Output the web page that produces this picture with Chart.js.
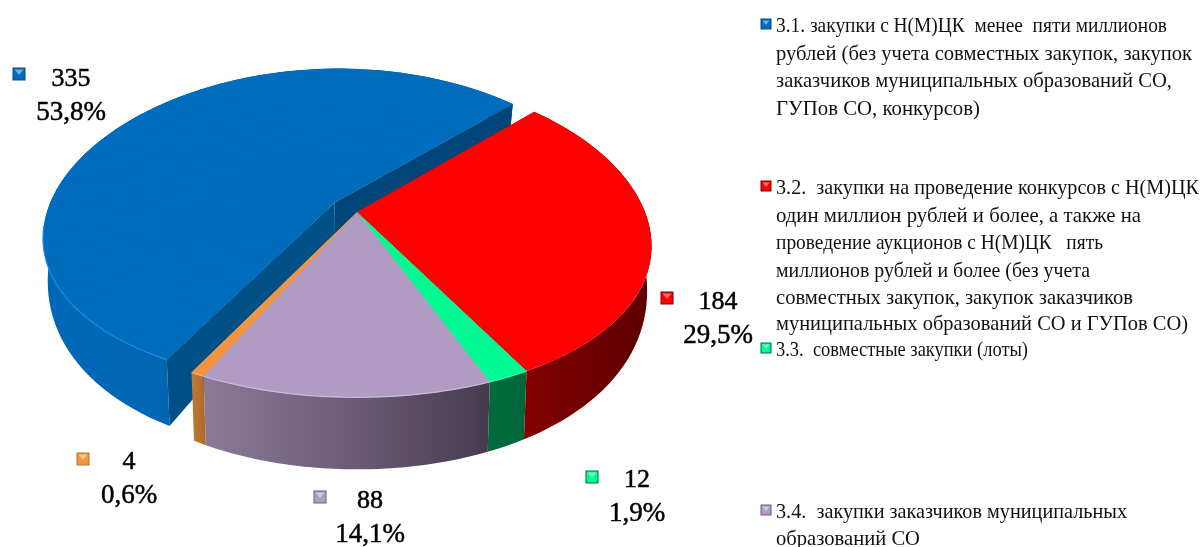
<!DOCTYPE html>
<html><head><meta charset="utf-8">
<style>html,body{margin:0;padding:0;background:#fff}#w{width:1202px;height:547px}</style>
<script src="https://cdn.jsdelivr.net/npm/chart.js@4"></script></head>
<body><div id="w"><canvas id="c" width="1202" height="547"></canvas></div>
<script>
// ---- data ----
const categories = ["3.1","3.2","3.3","3.4","3.5"];
const values = [335,184,12,88,4];
const percentLabels = ["53,8%","29,5%","1,9%","14,1%","0,6%"];
const explode = [0.1,0,0,0,0];
// ---- style ----
const topColors = ["#006cbd","#fe0000","#00fa92","#b09cc2","#f29543"];
const rimColors = ["#1a8be0","#ff3030","#30ffb0","#cbb9db","#f7b070"];
const keyDark = ["#004b84","#7a0000","#006a3c","#6a5d78","#b8722f"];
const blueFaces = ["#005088","#00457a"];
const wallStops = [
  ["#0068b8","#0062ad","#00548f"],
  ["#850000","#6e0000","#5e0000"],
  ["#006a3c","#006a3c","#00643a"],
  ["#8a7b99","#6b5d78","#463b4e"],
  ["#bd7a38","#b8732f","#b06c2b"]];
const labelPos = [[71,77,19,74],[718,300,667,298],[637,478,592,477],[370,499,320,497],[129,460,83,459]];
const legendLines = [
 ["3.1. закупки с Н(М)ЦК  менее  пяти миллионов",32,391,true,0],
 ["рублей (без учета совместных закупок, закупок",60,416],
 ["заказчиков муниципальных образований СО,",87,396],
 ["ГУПов СО, конкурсов)",115,204],
 ["3.2.  закупки на проведение конкурсов с Н(М)ЦК",194,423,true,1],
 ["один миллион рублей и более, а также на",222,365],
 ["проведение аукционов с Н(М)ЦК   пять",249,327],
 ["миллионов рублей и более (без учета",277,314],
 ["совместных закупок, закупок заказчиков",304,357],
 ["муниципальных образований СО и ГУПов СО)",330,412],
 ["3.3.  совместные закупки (лоты)",356,252,true,2],
 ["3.4.  закупки заказчиков муниципальных",518,351,true,3],
 ["образований СО",545,144]];
const P={cx:357,cy:212,a:288,qx:0.21,b:157,qy:0.153,h0:34,hFront:72,q2:0.525,shrink:0.985};
function wallHeight(t){
  return t>=0 ? P.h0/(1+P.q2*t) : P.h0+(P.hFront-P.h0)*Math.pow(Math.min(-t,1),0.8);
}
function proj(s,t,bottom){
  let x=P.a*s/(1+P.qx*t), y=P.cy-P.b*t/(1+P.qy*t);
  if(bottom){x*=P.shrink;y+=wallHeight(t);}
  return [P.cx+x,y];
}
const DEG=Math.PI/180;
function warp(th){ // the original's perspective pulls the front-left rim inward
  let d=((th/DEG)%360+360)%360, w=0;
  if(d>158&&d<=209)w=3.5*(d-158)/51;
  else if(d>209&&d<=230)w=3.5;
  else if(d>230&&d<300)w=3.5*(300-d)/70;
  return w*DEG;
}
function planeFn(i,el){
  const mid=(el.startAngle+el.endAngle)/2+Math.PI/2, e=explode[i];
  const ox=e*Math.sin(mid), oy=e*Math.cos(mid);
  return (phi,r,bottom)=>{let th=phi+Math.PI/2;th-=warp(th);return proj(r*Math.sin(th)+ox,r*Math.cos(th)+oy,bottom);};
}
function drawKey(ctx,x,y,sz,col,dark){
  ctx.save();
  ctx.fillStyle=dark;ctx.fillRect(x-sz/2,y-sz/2,sz,sz);
  ctx.fillStyle=col;ctx.fillRect(x-sz/2+1,y-sz/2+1,sz-2,sz-2);
  ctx.fillStyle="rgba(255,255,255,.45)";
  ctx.beginPath();ctx.moveTo(x-sz/2+2,y-sz/2+2);ctx.lineTo(x+sz/2-2,y-sz/2+2);ctx.lineTo(x,y+1);ctx.closePath();ctx.fill();
  ctx.restore();
}
const pie3d={
  id:'pie3d',
  beforeDatasetDraw(chart,args){
    const ctx=chart.ctx, arcs=args.meta.data;
    const STEP=Math.PI/90;
    arcs.forEach((el,i)=>{
      const f=planeFn(i,el), a0=el.startAngle, a1=el.endAngle;
      const pts=[];const n=Math.max(2,Math.ceil((a1-a0)/STEP));
      for(let k=0;k<=n;k++)pts.push(a0+(a1-a0)*k/n);
      // outer wall
      const xs=pts.map(a=>f(a,1,false)[0]);
      const xmin=Math.min(...xs),xmax=Math.max(...xs);
      const g=ctx.createLinearGradient(xmin,0,Math.max(xmax,xmin+1),0);
      wallStops[i].forEach((c,k)=>g.addColorStop(k/(wallStops[i].length-1),c));
      ctx.fillStyle=g;
      ctx.beginPath();
      pts.forEach((a,k)=>{const p=f(a,1,false);k?ctx.lineTo(...p):ctx.moveTo(...p);});
      pts.slice().reverse().forEach(a=>ctx.lineTo(...f(a,1,true)));
      ctx.closePath();ctx.fill();
      // cut faces of the pulled-out slice
      if(explode[i]>0){
        [a0,a1].forEach((a,j)=>{
          ctx.fillStyle=blueFaces[j];
          const A=f(a,0,false),B=f(a,1,false),C=f(a,1,true),D=f(a,0,true);
          ctx.beginPath();ctx.moveTo(...A);ctx.lineTo(...B);ctx.lineTo(...C);ctx.lineTo(...D);ctx.closePath();ctx.fill();
        });
      }
    });
    // top faces: the library's own arc elements, mapped wedge by wedge
    arcs.forEach((el,i)=>{
      const f=planeFn(i,el), a0=el.startAngle, a1=el.endAngle, R=el.outerRadius;
      const W=Math.PI/36, n=Math.max(1,Math.ceil((a1-a0)/W)), eps=0.006;
      const M0=f(a0,0,false);
      // solid underlay so wedge seams do not show near the tip
      ctx.fillStyle=topColors[i];ctx.beginPath();ctx.moveTo(...M0);
      for(let k=0;k<=n;k++){ctx.lineTo(...f(a0+(a1-a0)*k/n,0.995,false));}
      ctx.closePath();ctx.fill();
      for(let k=0;k<n;k++){
        const u=a0+(a1-a0)*k/n, v=a0+(a1-a0)*(k+1)/n;
        const p0=[R*Math.cos(u),R*Math.sin(u)],p1=[R*Math.cos(v),R*Math.sin(v)];
        const d0=f(u,1,false),d1=f(v,1,false);
        const D0=[d0[0]-M0[0],d0[1]-M0[1]],D1=[d1[0]-M0[0],d1[1]-M0[1]];
        const det=p0[0]*p1[1]-p1[0]*p0[1];
        const ia=p1[1]/det,ib=-p0[1]/det,ic=-p1[0]/det,id=p0[0]/det;
        const a=D0[0]*ia+D1[0]*ib, c=D0[0]*ic+D1[0]*id;
        const b=D0[1]*ia+D1[1]*ib, dd=D0[1]*ic+D1[1]*id;
        ctx.save();
        ctx.transform(a,b,c,dd,M0[0]-(a*el.x+c*el.y),M0[1]-(b*el.x+dd*el.y));
        ctx.beginPath();ctx.moveTo(el.x,el.y);
        ctx.lineTo(el.x+1.3*R*Math.cos(u-eps),el.y+1.3*R*Math.sin(u-eps));
        ctx.lineTo(el.x+1.3*R*Math.cos(v+eps),el.y+1.3*R*Math.sin(v+eps));
        ctx.closePath();ctx.clip();
        el.draw(ctx);
        ctx.restore();
      }
      // bevel highlight along the front rim
      ctx.strokeStyle=rimColors[i];ctx.lineWidth=1.2;ctx.beginPath();let on=false;
      const m=Math.max(2,Math.ceil((a1-a0)/(Math.PI/90)));
      for(let k=0;k<=m;k++){const ang=a0+(a1-a0)*k/m;
        if(Math.cos(ang+Math.PI/2)>-0.1||i===1){on=false;continue;}
        const p=f(ang,1,false);on?ctx.lineTo(...p):ctx.moveTo(...p);on=true;}
      ctx.stroke();
    });
    return false;
  },
  afterDraw(chart){
    const ctx=chart.ctx;
    ctx.save();ctx.fillStyle="#000";ctx.textBaseline="alphabetic";
    ctx.strokeStyle="#000";ctx.lineWidth=0.5;
    values.forEach((v,i)=>{
      const [x,y,kx,ky]=labelPos[i];
      ctx.textAlign="center";
      ctx.font="26px 'Liberation Serif'";
      ctx.fillText(String(v),x,y+9);ctx.strokeText(String(v),x,y+9);
      ctx.font="27px 'Liberation Serif'";
      ctx.fillText(percentLabels[i],x,y+43);ctx.strokeText(percentLabels[i],x,y+43);
      drawKey(ctx,kx,ky,13,topColors[i],keyDark[i]);
    });
    ctx.textAlign="left";
    ctx.font="21px 'Liberation Serif'";
    legendLines.forEach(l=>{
      ctx.fillStyle="#111";
      ctx.fillText(l[0],776,l[1],l[2]);
      if(l[3])drawKey(ctx,766,l[1]-8,11,topColors[l[4]],keyDark[l[4]]);
    });
    ctx.restore();
  }
};
new Chart(document.getElementById('c'),{
  type:'pie',
  data:{labels:categories,datasets:[{data:values,backgroundColor:topColors,borderWidth:0}]},
  options:{responsive:false,animation:false,rotation:211.4,radius:200,
    layout:{padding:0},
    plugins:{legend:{display:false},tooltip:{enabled:false}}},
  plugins:[pie3d]
});
</script></body></html>
